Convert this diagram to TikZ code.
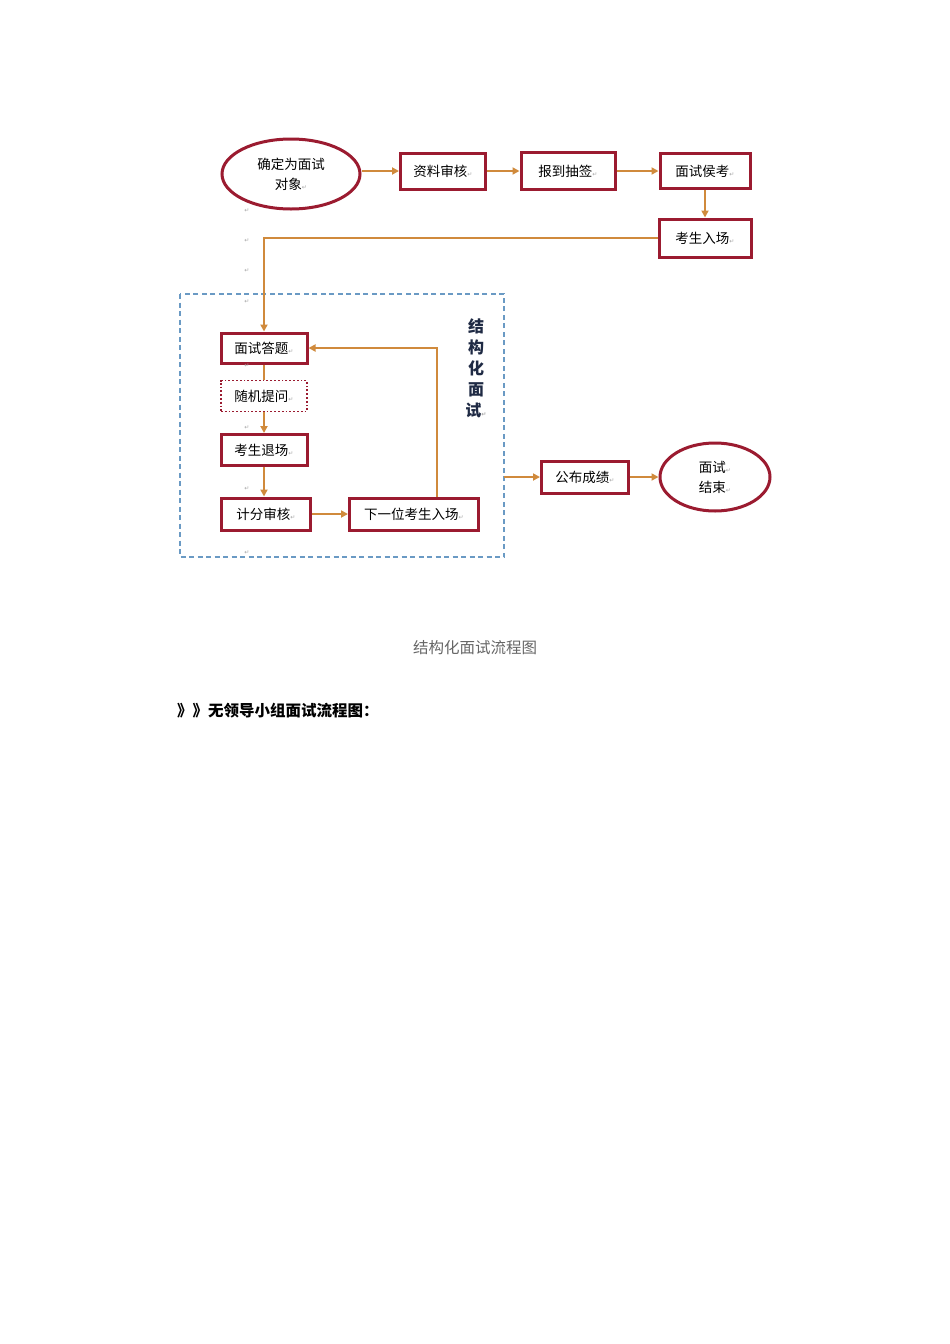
\documentclass[tikz,border=0pt]{standalone}
\usepackage{fontspec}
\setmainfont{Noto Sans CJK SC}
\newfontfamily\dvfont{DejaVu Sans}
\usetikzlibrary{arrows.meta,shapes.geometric}
\definecolor{boxred}{HTML}{9B1B30}
\definecolor{arrowc}{HTML}{D08A3C}
\definecolor{dashc}{HTML}{6A9AC4}
\definecolor{navy}{HTML}{1F2A44}
\newcommand\retmark{{\dvfont\color{gray!70}\fontsize{6}{6}\selectfont ↵}}
\begin{document}
\begin{tikzpicture}[x=1pt,y=-1pt,
  every node/.style={font=\fontsize{13.5}{20}\selectfont, text=black, inner sep=0pt},
  stepbox/.style={draw=boxred, line width=3pt, fill=white, minimum width=#1, minimum height=34pt},
  stepbox/.default=88pt,
  dotbox/.style={draw=boxred, line width=1.8pt, dotted, fill=white, minimum width=86pt, minimum height=31pt},
  oval/.style={ellipse, draw=boxred, line width=3pt, fill=white},
  conn/.style={draw=arrowc, line width=2pt, -{Triangle[length=7pt,width=7pt]}},
  plainconn/.style={draw=arrowc, line width=2pt},
  para/.style={font=\dvfont\fontsize{6}{6}\selectfont, text=gray!70}
]
\path[use as bounding box] (0,0) rectangle (950,1344);
\fill[white] (0,0) rectangle (950,1344);

% dashed container
\draw[dashc, line width=1.5pt, dash pattern=on 5pt off 3.5pt] (180,294) rectangle (504,557);
\coordinate (boxR) at (504,477);

% top row
\node[oval, minimum width=138pt, minimum height=70pt, align=center] (obj) at (291,174)
  {确定为面试\\对象\retmark};
\node[stepbox=85pt, minimum height=36pt] (zl) at (443,171) {资料审核\retmark};
\node[stepbox=94pt, minimum height=37pt] (bd) at (568,171) {报到抽签\retmark};
\node[stepbox=90pt, minimum height=35pt] (hk) at (705,171) {面试侯考\retmark};
\node[stepbox=92pt, minimum height=38pt] (rc) at (705,238) {考生入场\retmark};

% inner flow
\node[stepbox=86pt, minimum height=30pt] (dt) at (264,348) {面试答题\retmark};
\node[dotbox] (tw) at (264,396) {随机提问\retmark};
\node[stepbox=86pt, minimum height=31pt] (tc) at (264,450) {考生退场\retmark};
\node[stepbox=89pt, minimum height=32pt] (jf) at (266,514) {计分审核\retmark};
\node[stepbox=129pt, minimum height=32pt] (xy) at (414,514) {下一位考生入场\retmark};

\node[font=\bfseries\fontsize{16}{21}\selectfont, text=navy, align=center] (title) at (476,368)
  {结\\构\\化\\面\\试\retmark};

% right part
\node[stepbox=87pt, minimum height=32pt] (gb) at (585,477) {公布成绩\retmark};
\node[oval, minimum width=110pt, minimum height=68pt, align=center] (end) at (715,477)
  {面试\retmark\\结束\retmark};

% stray paragraph marks
\foreach \yy in {211,241,271,302,366,428,489,553}
  \node[para] at (247,\yy) {↵};

% connectors
\draw[conn] (obj.east |- zl.west) -- (zl.west);
\draw[conn] (zl.east) -- (bd.west);
\draw[conn] (bd.east) -- (hk.west);
\draw[conn] (hk.south) -- (rc.north);
\draw[conn] (rc.west) -| (dt.north);
\draw[plainconn] (dt.south) -- (tw.north);
\draw[conn] (tw.south) -- (tc.north);
\draw[conn] (tc.south) -- (tc.south |- jf.north);
\draw[conn] (jf.east) -- (xy.west);
\draw[conn] (xy.north -| 437,0) |- (dt.east);
\draw[conn] (boxR) -- (gb.west);
\draw[conn] (gb.east) -- (end.west);

% captions
\node[font=\fontsize{15.5}{16}\selectfont, text=black!60] (cap) at (475,648) {结构化面试流程图};
\node[font=\bfseries\fontsize{15.5}{16}\selectfont, anchor=west] (head) at (177,711) {》》无领导小组面试流程图：};
\end{tikzpicture}
\end{document}
